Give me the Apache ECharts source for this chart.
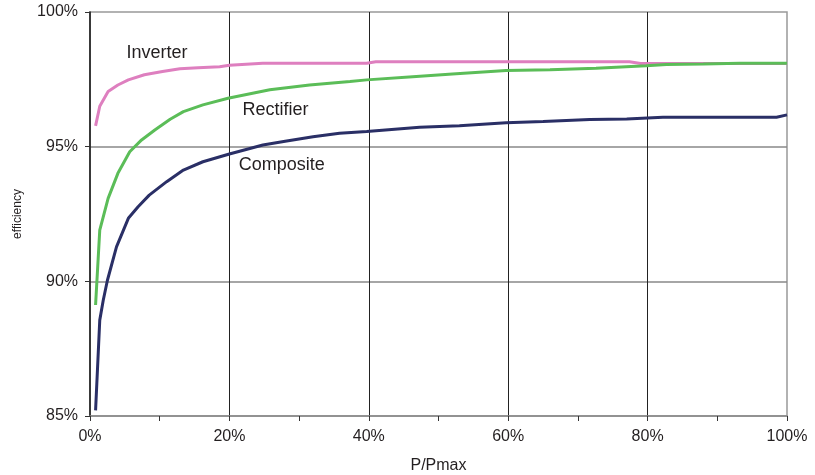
<!DOCTYPE html>
<html>
<head>
<meta charset="utf-8">
<script src="https://cdn.jsdelivr.net/npm/echarts@6/dist/echarts.min.js"></script>
<style>
  html, body { margin: 0; padding: 0; background: #fff; }
  #chart { width: 815px; height: 475px; }
</style>
</head>
<body>
<div id="chart"></div>
<script>
// Efficiency vs. load fraction.
// x = P/Pmax in %, y = efficiency in %.
const inverterX = [0.8, 1.4, 2.6, 4.0, 5.5, 7.8, 10.4, 12.9, 15.5, 18.6, 20, 24.8, 30, 35.8, 39.7, 41, 50, 60, 70, 77.4, 79, 90, 100];
const inverterY = [95.77, 96.5, 97.05, 97.29, 97.48, 97.67, 97.79, 97.89, 97.93, 97.97, 98.02, 98.1, 98.1, 98.1, 98.1, 98.15, 98.15, 98.15, 98.15, 98.15, 98.09, 98.09, 98.09];

const rectifierX = [0.8, 1.4, 2.6, 4.0, 5.7, 7.4, 9.3, 11.5, 13.4, 16.2, 19.8, 25.8, 31.5, 37.3, 39.7, 46.3, 52, 59.7, 66, 72.6, 79.8, 82.7, 88, 93.2, 100];
const rectifierY = [89.12, 91.9, 93.08, 94.01, 94.81, 95.25, 95.62, 96.02, 96.3, 96.55, 96.8, 97.11, 97.29, 97.42, 97.48, 97.6, 97.7, 97.83, 97.86, 97.91, 98.0, 98.05, 98.07, 98.1, 98.1];

const compositeX = [0.8, 1.4, 1.9, 2.5, 3.8, 5.5, 6.9, 8.5, 11.0, 13.4, 16.2, 20, 24.8, 28, 32, 35.8, 39.7, 47.3, 53, 59.7, 65, 71.7, 77, 82.2, 90, 98.5, 100];
const compositeY = [85.21, 88.56, 89.3, 90.04, 91.28, 92.34, 92.77, 93.2, 93.7, 94.13, 94.44, 94.73, 95.06, 95.2, 95.37, 95.5, 95.56, 95.72, 95.78, 95.89, 95.93, 96.01, 96.03, 96.09, 96.09, 96.09, 96.18];

const xTicks = [0, 20, 40, 60, 80, 100];
const yTicks = [85, 90, 95, 100];

// Curve captions, placed in data space next to each curve.
const captions = [
  { name: "Inverter", at: [9.6, 98.48] },
  { name: "Rectifier", at: [26.6, 96.36] },
  { name: "Composite", at: [27.5, 94.32] },
];

const FONT = "Liberation Sans, Arial, sans-serif";
const TEXT = "#231f20";

function zip(xs, ys) {
  return xs.map((x, i) => [x, ys[i]]);
}

function lineSeries(name, color, xs, ys, caption) {
  return {
    name,
    type: "line",
    data: zip(xs, ys),
    showSymbol: false,
    smooth: false,
    lineStyle: { color, width: 3 },
    itemStyle: { color },
    markPoint: {
      symbol: "circle",
      symbolSize: 1,
      silent: true,
      itemStyle: { color: "rgba(0,0,0,0)" },
      data: [{ coord: caption.at, value: caption.name }],
      label: {
        show: true,
        position: "inside",
        formatter: caption.name,
        color: TEXT,
        fontSize: 18,
        fontFamily: FONT,
      },
    },
  };
}

const chart = echarts.init(document.getElementById("chart"), null, { renderer: "canvas" });

chart.setOption({
  animation: false,
  backgroundColor: "#fff",
  grid: {
    left: 90, right: 28, top: 12, bottom: 59,
    outerBoundsMode: "none",
    containLabel: false,
    show: true,
    borderColor: "#999",
    borderWidth: 1.5,
  },
  xAxis: {
    type: "value",
    min: xTicks[0],
    max: xTicks[xTicks.length - 1],
    interval: 20,
    name: "P/Pmax",
    nameLocation: "middle",
    nameGap: 42,
    nameTextStyle: { color: TEXT, fontSize: 16, fontFamily: FONT },
    axisLine: { show: true, lineStyle: { color: "#888", width: 1.5 } },
    axisTick: { show: true, inside: false, length: 5, lineStyle: { color: "#333" } },
    minorTick: { show: true, splitNumber: 2, length: 5, lineStyle: { color: "#333" } },
    axisLabel: {
      color: TEXT, fontSize: 16, fontFamily: FONT, margin: 13,
      formatter: (v) => v + "%",
    },
    splitLine: {
      show: true,
      showMinLine: false,
      showMaxLine: false,
      lineStyle: { color: "#222", width: 1 },
    },
  },
  yAxis: {
    type: "value",
    min: yTicks[0],
    max: yTicks[yTicks.length - 1],
    interval: 5,
    name: "efficiency",
    nameLocation: "middle",
    nameRotate: 90,
    nameGap: 66,
    nameTextStyle: { color: TEXT, fontSize: 12, fontFamily: FONT },
    axisLine: { show: true, lineStyle: { color: "#111", width: 1.5 } },
    axisTick: { show: true, inside: false, length: 5, lineStyle: { color: "#333" } },
    axisLabel: {
      color: TEXT, fontSize: 16, fontFamily: FONT, margin: 12,
      formatter: (v) => v + "%",
    },
    splitLine: {
      show: true,
      showMinLine: false,
      showMaxLine: false,
      lineStyle: { color: "#888", width: 1.5 },
    },
  },
  series: [
    lineSeries("Inverter", "#de7fbf", inverterX, inverterY, captions[0]),
    lineSeries("Rectifier", "#5bbd58", rectifierX, rectifierY, captions[1]),
    lineSeries("Composite", "#2a2f66", compositeX, compositeY, captions[2]),
  ],
});
</script>
</body>
</html>
